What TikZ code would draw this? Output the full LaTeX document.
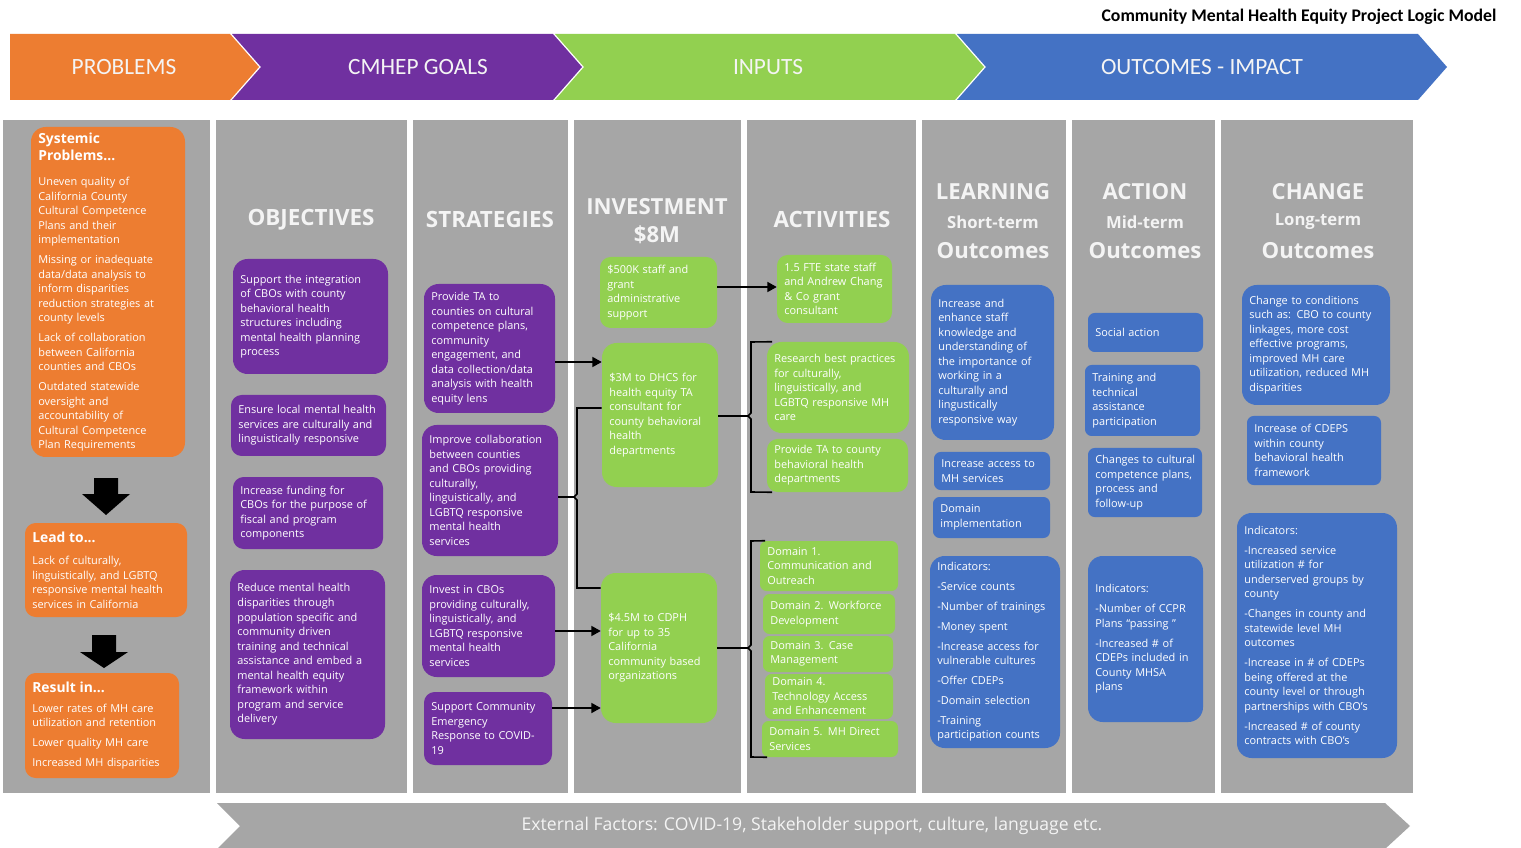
\documentclass[tikz,border=0pt]{standalone}
\usepackage{fontspec}
\setmainfont{Open Sans}
\newfontfamily\calfont{Carlito}
\usetikzlibrary{arrows.meta,calc}
\definecolor{orng}{HTML}{ED7D31}
\definecolor{purp}{HTML}{7030A0}
\definecolor{grn}{HTML}{92D050}
\definecolor{blu}{HTML}{4472C4}
\definecolor{gry}{HTML}{A6A6A6}
\definecolor{hdrc}{HTML}{F4F4F4}
\newcommand{\bodyf}{\fontsize{8.2}{10.9}\selectfont}
\newcommand{\titf}{\fontsize{10.4}{13.5}\selectfont\bfseries}
\newcommand{\mybox}[7]{%
  \pgfmathsetmacro{\mbw}{(#4-#2)*0.75}%
  \pgfmathsetmacro{\mbh}{(#5-#3)*0.75}%
  \pgfmathsetmacro{\mtw}{(#4-#2)*0.75-11}%
  \node[#6, minimum width=\mbw pt, minimum height=\mbh pt, text width=\mtw pt] (#1) at ({(#2+#4)/2},{(#3+#5)/2}) {\rightskip=0pt plus 1fil minus 300pt\relax\hyphenpenalty=10000\relax #7};%
}
\begin{document}
\begin{tikzpicture}[x=0.75pt,y=-0.75pt,
  cbox/.style={rectangle, rounded corners=8pt, text=white, align=left, inner xsep=5.5pt, inner ysep=0pt, font=\bodyf},
  ob/.style={cbox, fill=orng},
  pb/.style={cbox, fill=purp},
  gb/.style={cbox, fill=grn},
  bb/.style={cbox, fill=blu},
  sm/.style={rounded corners=5pt},
  lg/.style={rounded corners=11pt},
  hdr/.style={text=hdrc, font=\bfseries\fontsize{16.8}{19}\selectfont},
  hdrb/.style={text=hdrc, font=\bfseries\fontsize{16.6}{19}\selectfont},
  hdrs/.style={text=hdrc, font=\bfseries\fontsize{12.5}{15}\selectfont},
  bann/.style={text=hdrc, font=\calfont\fontsize{17.5}{19}\selectfont},
  conn/.style={line width=1.2pt, black},
  arr/.style={conn, -{Triangle[length=7pt,width=7.5pt]}}
]
\useasboundingbox (0,0) rectangle (1521,848);
\fill[white] (0,0) rectangle (1521,848);

% title
\node[anchor=east, font=\calfont\bfseries\fontsize{13.3}{15}\selectfont] (title) at (1501,17) {Community Mental Health Equity Project Logic Model};

% banner
\fill[orng] (10,34) -- (230,34) -- (259,67) -- (230,100) -- (10,100) -- cycle;
\fill[purp] (232,34) -- (553,34) -- (582,67) -- (553,100) -- (232,100) -- (261,67) -- cycle;
\fill[grn] (555,34) -- (955,34) -- (984,67) -- (955,100) -- (555,100) -- (584,67) -- cycle;
\fill[blu] (957,34) -- (1418,34) -- (1447,67) -- (1418,100) -- (957,100) -- (986,67) -- cycle;
\node[bann] (bprob) at (124,67) {PROBLEMS};
\node[bann] (bgoal) at (418,67) {CMHEP GOALS};
\node[bann] (binp) at (768,67) {INPUTS};
\node[bann] (bout) at (1202,67) {OUTCOMES - IMPACT};

% columns
\foreach \a/\b in {3/210, 216/407, 413/568, 574/741, 747/916, 922/1066, 1072/1215, 1221/1413}
  \fill[gry] (\a,120) rectangle (\b,793);

% footer
\fill[gry] (217,803) -- (1385,803) -- (1410,826) -- (1385,849) -- (217,849) -- (240,826) -- cycle;
\node[text=hdrc, font=\fontsize{13.2}{15}\selectfont] (ext) at (812,826) {External Factors: COVID-19, Stakeholder support, culture, language etc.};

% ---------- problems ----------
\mybox{sys}{31}{127}{185}{457}{ob,lg}{{\titf Systemic\\[2pt]Problems...}\\[8pt]
Uneven quality of\\California County\\Cultural Competence\\Plans and their\\implementation\\[4pt]
Missing or inadequate\\data/data analysis to\\inform disparities\\reduction strategies at\\county levels\\[4pt]
Lack of collaboration\\between California\\counties and CBOs\\[4pt]
Outdated statewide\\oversight and\\accountability of\\Cultural Competence\\Plan Requirements}
\fill[black] (94,478) -- (118,478) -- (118,494) -- (130,494) -- (106,515) -- (82,494) -- (94,494) -- cycle;
\mybox{lead}{25}{523}{187}{617}{ob}{{\titf Lead to...}\\[6pt]
Lack of culturally,\\linguistically, and LGBTQ\\responsive mental health\\services in California}
\fill[black] (92,635) -- (116,635) -- (116,652) -- (128,652) -- (104,668) -- (80,652) -- (92,652) -- cycle;
\mybox{res}{25}{673}{179}{778}{ob}{{\titf Result in...}\\[4pt]
Lower rates of MH care\\utilization and retention\\[4pt]
Lower quality MH care\\[4pt]
Increased MH disparities}

% ---------- objectives ----------
\node[hdr] (hobj) at (311,220) {OBJECTIVES};
\mybox{ob1}{233}{259}{388}{374}{pb,lg}{Support the integration\\of CBOs with county\\behavioral health\\structures including\\mental health planning\\process}
\mybox{ob2}{231}{395}{386}{456}{pb}{Ensure local mental health\\services are culturally and\\linguistically responsive}
\mybox{ob3}{233}{477}{383}{549}{pb}{Increase funding for\\CBOs for the purpose of\\fiscal and program\\components}
\mybox{ob4}{230}{570}{385}{739}{pb,lg}{Reduce mental health\\disparities through\\population specific and\\community driven\\training and technical\\assistance and embed a\\mental health equity\\framework within\\program and service\\delivery}

% ---------- strategies ----------
\node[hdr] (hstr) at (490,220) {STRATEGIES};
\mybox{st1}{424}{284}{555}{413}{pb,lg}{Provide TA to\\counties on cultural\\competence plans,\\community\\engagement, and\\data collection/data\\analysis with health\\equity lens}
\mybox{st2}{422}{425}{558}{556}{pb,lg}{Improve collaboration\\between counties\\and CBOs providing\\culturally,\\linguistically, and\\LGBTQ responsive\\mental health\\services}
\mybox{st3}{422}{575}{555}{677}{pb,lg}{Invest in CBOs\\providing culturally,\\linguistically, and\\LGBTQ responsive\\mental health\\services}
\mybox{st4}{424}{692}{552}{765}{pb}{Support Community\\Emergency\\Response to COVID-\\19}

% ---------- investment ----------
\node[hdrb] (hinv1) at (657,207) {INVESTMENT};
\node[hdrb] (hinv2) at (657,235) {\$8M};
\mybox{inv1}{600}{257}{717}{328}{gb}{\$500K staff and\\grant\\administrative\\support}
\mybox{inv2}{602}{343}{718}{487}{gb,lg}{\$3M to DHCS for\\health equity TA\\consultant for\\county behavioral\\health\\departments}
\mybox{inv3}{601}{573}{717}{723}{gb,lg}{\$4.5M to CDPH\\for up to 35\\California\\community based\\organizations}

% ---------- activities ----------
\node[hdr] (hact) at (832,220) {ACTIVITIES};
\mybox{act1}{777}{255}{892}{323}{gb}{1.5 FTE state staff\\and Andrew Chang\\\& Co grant\\consultant}
\mybox{act2}{767}{342}{909}{433}{gb,lg}{Research best practices\\for culturally,\\linguistically, and\\LGBTQ responsive MH\\care}
\mybox{act3}{767}{439}{908}{492}{gb}{Provide TA to county\\behavioral health\\departments}
\mybox{d1}{760}{541}{898}{591}{gb,sm}{Domain 1.\\Communication and\\Outreach}
\mybox{d2}{763}{594}{895}{634}{gb,sm}{Domain 2. Workforce\\Development}
\mybox{d3}{763}{636}{893}{672}{gb,sm}{Domain 3. Case\\Management}
\mybox{d4}{765}{674}{893}{719}{gb,sm}{Domain 4.\\Technology Access\\and Enhancement}
\mybox{d5}{762}{721}{898}{757}{gb,sm}{Domain 5. MH Direct\\Services}

% ---------- learning ----------
\node[hdrb] (hl1) at (993,192) {LEARNING};
\node[hdrs] (hl2) at (993,222) {Short-term};
\node[hdrb] (hl3) at (993,251) {Outcomes};
\mybox{l1}{931}{285}{1054}{440}{bb,lg}{Increase and\\enhance staff\\knowledge and\\understanding of\\the importance of\\working in a\\culturally and\\lingustically\\responsive way}
\mybox{l2}{934}{452}{1050}{490}{bb,sm}{Increase access to\\MH services}
\mybox{l3}{933}{497}{1050}{538}{bb,sm}{Domain\\implementation}
\mybox{l4}{930}{556}{1060}{748}{bb,lg}{Indicators:\\[4pt]-Service counts\\[4pt]-Number of trainings\\[4pt]-Money spent\\[4pt]-Increase access for\\vulnerable cultures\\[4pt]-Offer CDEPs\\[4pt]-Domain selection\\[4pt]-Training\\participation counts}

% ---------- action ----------
\node[hdrb] (ha1) at (1145,192) {ACTION};
\node[hdrs] (ha2) at (1145,222) {Mid-term};
\node[hdrb] (ha3) at (1145,251) {Outcomes};
\mybox{a1}{1088}{313}{1203}{352}{bb,sm}{Social action}
\mybox{a2}{1085}{365}{1200}{436}{bb,sm}{Training and\\technical\\assistance\\participation}
\mybox{a3}{1088}{448}{1202}{517}{bb,sm}{Changes to cultural\\competence plans,\\process and\\follow-up}
\mybox{a4}{1088}{556}{1203}{722}{bb,lg}{Indicators:\\[4pt]-Number of CCPR\\Plans “passing ”\\[4pt]-Increased \# of\\CDEPs included in\\County MHSA\\plans}

% ---------- change ----------
\node[hdrb] (hc1) at (1318,192) {CHANGE};
\node[hdrs] (hc2) at (1318,222) {Long-term};
\node[hdrb] (hc3) at (1318,251) {Outcomes};
\mybox{c1}{1242}{285}{1390}{405}{bb,lg}{Change to conditions\\such as: CBO to county\\linkages, more cost\\effective programs,\\improved MH care\\utilization, reduced MH\\disparities}
\mybox{c2}{1247}{416}{1381}{485}{bb,sm}{Increase of CDEPS\\within county\\behavioral health\\framework}
\mybox{c3}{1237}{513}{1397}{758}{bb,lg}{Indicators:\\[4pt]-Increased service\\utilization \# for\\underserved groups by\\county\\[4pt]-Changes in county and\\statewide level MH\\outcomes\\[4pt]-Increase in \# of CDEPs\\being offered at the\\county level or through\\partnerships with CBO’s\\[4pt]-Increased \# of county\\contracts with CBO’s}

% ---------- connectors ----------
\draw[arr] (st1.east |- 0,362) -- (inv2.west |- 0,362);
\draw[conn] (st2.east |- 0,497) -- (574,497);
\draw[conn] (inv2.west |- 0,408) -- (577,408) -- (577,494) -- (574,497) -- (577,500) -- (577,588) -- (inv3.west |- 0,588);
\draw[arr] (st3.east |- 0,631) -- (inv3.west |- 0,631);
\draw[arr] (st4.east |- 0,708) -- (inv3.west |- 0,708);
\draw[arr] (inv1.east |- 0,287) -- (act1.west |- 0,287);
\draw[conn] (inv2.east |- 0,416) -- (748,416);
\draw[conn] ([xshift=4pt]act2.north west) -- (751,342) -- (751,413) -- (748,416) -- (751,419) -- (751,492) -- ([xshift=4pt]act3.south west);
\draw[conn] (inv3.east |- 0,648) -- (748,648);
\draw[conn] ([xshift=4pt]d1.north west) -- (751,541) -- (751,645) -- (748,648) -- (751,651) -- (751,757) -- ([xshift=4pt]d5.south west);
\end{tikzpicture}
\end{document}
